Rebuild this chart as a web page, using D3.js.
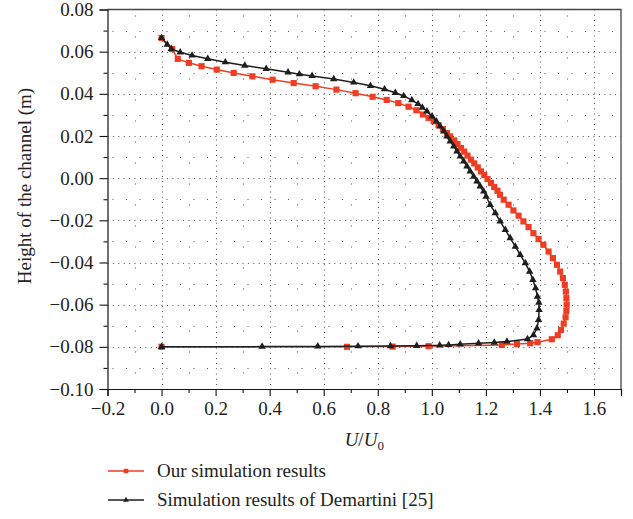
<!DOCTYPE html>
<html>
<head>
<meta charset="utf-8">
<script src="https://cdn.jsdelivr.net/npm/d3@7/dist/d3.min.js"></script>
<style>
  body { margin: 0; background: #fff; }
  text { font-family: "Liberation Serif", "DejaVu Serif", serif; }
</style>
</head>
<body>
<div id="chart"></div>
<script>
// Our simulation results (red squares)
var oursX = [0.0, 0.039, 0.060, 0.101, 0.148, 0.204, 0.267, 0.336, 0.411, 0.489, 0.570, 0.647, 0.718, 0.781, 0.833, 0.876,
  0.914, 0.943, 0.967, 0.988, 1.007, 1.025, 1.041, 1.056, 1.068, 1.083, 1.095, 1.108, 1.120, 1.132, 1.145, 1.157,
  1.170, 1.182, 1.194, 1.206, 1.219, 1.231, 1.243, 1.252, 1.266, 1.284, 1.302, 1.321, 1.339, 1.358, 1.376, 1.395,
  1.413, 1.432, 1.448, 1.463, 1.475, 1.485, 1.492, 1.496, 1.498, 1.499, 1.498, 1.495, 1.488, 1.478, 1.466, 1.444,
  1.391, 1.364, 1.315, 1.259, 0.988, 0.855, 0.686, 0.0];
var oursY = [0.0665, 0.0613, 0.0566, 0.0547, 0.0531, 0.0515, 0.0499, 0.0483, 0.0467, 0.0451, 0.0436, 0.0420, 0.0403, 0.0386, 0.0371, 0.0356,
  0.0339, 0.0322, 0.0302, 0.0286, 0.0270, 0.0251, 0.0233, 0.0214, 0.0198, 0.0179, 0.0162, 0.0143, 0.0126, 0.0107, 0.0088, 0.0070,
  0.0051, 0.0032, 0.0015, -0.0004, -0.0023, -0.0042, -0.0060, -0.0079, -0.0102, -0.0126, -0.0153, -0.0178, -0.0205, -0.0232, -0.0261, -0.0289,
  -0.0316, -0.0348, -0.0379, -0.0411, -0.0443, -0.0474, -0.0506, -0.0538, -0.0569, -0.0600, -0.0630, -0.0660, -0.0690, -0.0720, -0.0745, -0.0764,
  -0.0778, -0.0783, -0.0787, -0.0791, -0.0797, -0.0799, -0.0800, -0.0800];

// Simulation results of Demartini [25] (black triangles)
var demX = [0.0, 0.021, 0.036, 0.069, 0.113, 0.171, 0.236, 0.308, 0.387, 0.468, 0.510, 0.557, 0.637, 0.711, 0.773, 0.825,
  0.865, 0.896, 0.926, 0.949, 0.965, 0.982, 1.001, 1.017, 1.031, 1.044, 1.056, 1.068, 1.081, 1.093, 1.105, 1.118,
  1.130, 1.142, 1.155, 1.167, 1.179, 1.192, 1.201, 1.216, 1.235, 1.253, 1.272, 1.290, 1.309, 1.327, 1.346, 1.362,
  1.374, 1.384, 1.391, 1.396, 1.397, 1.395, 1.389, 1.376, 1.354, 1.278, 1.231, 1.173, 1.105, 1.062, 1.029, 0.944,
  0.847, 0.727, 0.578, 0.372, 0.0];
var demY = [0.0665, 0.0634, 0.0613, 0.0597, 0.0582, 0.0566, 0.0550, 0.0534, 0.0519, 0.0502, 0.0493, 0.0485, 0.0470, 0.0454, 0.0438, 0.0422,
  0.0405, 0.0390, 0.0370, 0.0352, 0.0335, 0.0317, 0.0293, 0.0270, 0.0246, 0.0222, 0.0198, 0.0175, 0.0151, 0.0127, 0.0103, 0.0080,
  0.0056, 0.0032, 0.0008, -0.0015, -0.0039, -0.0063, -0.0087, -0.0126, -0.0166, -0.0205, -0.0245, -0.0284, -0.0324, -0.0364, -0.0403, -0.0443,
  -0.0482, -0.0522, -0.0562, -0.0590, -0.0625, -0.0672, -0.0712, -0.0744, -0.0763, -0.0775, -0.0780, -0.0783, -0.0788, -0.0791, -0.0793, -0.0795,
  -0.0796, -0.0797, -0.0798, -0.0799, -0.0800];

var xTicks = [-0.2, 0.0, 0.2, 0.4, 0.6, 0.8, 1.0, 1.2, 1.4, 1.6];
var yTicks = [0.08, 0.06, 0.04, 0.02, 0.00, -0.02, -0.04, -0.06, -0.08, -0.10];
var legendNames = ["Our simulation results", "Simulation results of Demartini [25]"];

var width = 633, height = 519;
var plotLeft = 107.5, plotRight = 621, plotTop = 9.5, plotBottom = 389;
var red = "#ef3d23", black = "#1e1e1e";

var svg = d3.select("#chart").append("svg")
    .attr("width", width)
    .attr("height", height);

var x = d3.scaleLinear().domain([-0.2, 1.7]).range([plotLeft, plotRight]);
var y = d3.scaleLinear().domain([-0.10, 0.08]).range([plotBottom, plotTop]);

function fmt(v) {
    return d3.format(".2f")(v).replace("-", "\u2212");
}
function fmt1(v) {
    return d3.format(".1f")(v).replace("-", "\u2212");
}

// grid
var grid = svg.append("g").attr("stroke", "#555").attr("stroke-width", 1.1);
var minorY = d3.range(-0.09, 0.08, 0.02);
var minorX = d3.range(-0.1, 1.7, 0.2);

grid.selectAll(".hmaj").data(yTicks.slice(1, -1)).enter().append("line")
    .attr("x1", plotLeft).attr("x2", plotRight)
    .attr("y1", function(d) { return Math.round(y(d)) + 0.5; })
    .attr("y2", function(d) { return Math.round(y(d)) + 0.5; })
    .attr("stroke-dasharray", "1,4.4");
grid.selectAll(".hmin").data(minorY).enter().append("line")
    .attr("x1", plotLeft + 5).attr("x2", plotRight)
    .attr("y1", function(d) { return Math.round(y(d)) + 0.5; })
    .attr("y2", function(d) { return Math.round(y(d)) + 0.5; })
    .attr("stroke-dasharray", "1,12.5");
grid.selectAll(".vmaj").data(xTicks.slice(1)).enter().append("line")
    .attr("y1", plotTop).attr("y2", plotBottom)
    .attr("x1", function(d) { return Math.round(x(d)) + 0.5; })
    .attr("x2", function(d) { return Math.round(x(d)) + 0.5; })
    .attr("stroke-dasharray", "1,4.2");
grid.selectAll(".vmin").data(minorX).enter().append("line")
    .attr("y1", plotTop + 6).attr("y2", plotBottom)
    .attr("x1", function(d) { return Math.round(x(d)) + 0.5; })
    .attr("x2", function(d) { return Math.round(x(d)) + 0.5; })
    .attr("stroke-dasharray", "1,20");

// frame top/right
svg.append("path")
    .attr("d", "M" + plotLeft + "," + plotTop + "H" + plotRight + "V" + plotBottom)
    .attr("fill", "none").attr("stroke", "#444").attr("stroke-width", 1.3);

// axes
svg.append("g").attr("transform", "translate(0," + plotBottom + ")")
    .call(d3.axisBottom(x).tickValues(xTicks).tickFormat(fmt1).tickSize(7).tickPadding(6));
svg.append("g").attr("transform", "translate(0," + plotBottom + ")")
    .call(d3.axisBottom(x).tickValues(minorX).tickFormat("").tickSize(4))
    .select(".domain").remove();
svg.append("g").attr("transform", "translate(" + plotLeft + ",0)")
    .call(d3.axisLeft(y).tickValues(yTicks).tickFormat(fmt).tickSize(8).tickPadding(6));
svg.append("g").attr("transform", "translate(" + plotLeft + ",0)")
    .call(d3.axisLeft(y).tickValues(minorY).tickFormat("").tickSize(4))
    .select(".domain").remove();

svg.selectAll(".domain").attr("stroke", "#111").attr("stroke-width", 1.2);
svg.selectAll(".tick line").attr("stroke", "#111").attr("stroke-width", 1.1);
svg.selectAll(".tick text").attr("font-family", "Liberation Serif").attr("font-size", 19).attr("fill", "#222");

// axis titles
svg.append("text")
    .attr("transform", "translate(31,186) rotate(-90)")
    .attr("text-anchor", "middle")
    .attr("font-size", 19).attr("fill", "#222")
    .text("Height of the channel (m)");

var xt = svg.append("text")
    .attr("x", (plotLeft + plotRight) / 2).attr("y", 446)
    .attr("text-anchor", "middle")
    .attr("font-size", 19).attr("fill", "#222");
xt.append("tspan").attr("font-style", "italic").text("U");
xt.append("tspan").text("/");
xt.append("tspan").attr("font-style", "italic").text("U");
xt.append("tspan").attr("font-size", 13).attr("dy", 4).text("0");

// series
var line = d3.line()
    .x(function(d) { return x(d[0]); })
    .y(function(d) { return y(d[1]); });

var ours = d3.zip(oursX, oursY);
var dem = d3.zip(demX, demY);

var sq = d3.symbol().type(d3.symbolSquare).size(38);
var tri = d3.symbol().type(d3.symbolTriangle).size(24);

svg.append("path").datum(ours)
    .attr("d", line).attr("fill", "none")
    .attr("stroke", red).attr("stroke-width", 1.5);
svg.append("g").selectAll("path").data(ours).enter().append("path")
    .attr("d", sq)
    .attr("transform", function(d) { return "translate(" + x(d[0]) + "," + y(d[1]) + ")"; })
    .attr("fill", red);

svg.append("path").datum(dem)
    .attr("d", line).attr("fill", "none")
    .attr("stroke", black).attr("stroke-width", 1.5);
svg.append("g").selectAll("path").data(dem).enter().append("path")
    .attr("d", tri)
    .attr("transform", function(d) { return "translate(" + x(d[0]) + "," + y(d[1]) + ")"; })
    .attr("fill", black);

// legend
var legend = svg.append("g");
var ly = [471, 500];
[red, black].forEach(function(c, i) {
    legend.append("line")
        .attr("x1", 108).attr("x2", 144)
        .attr("y1", ly[i]).attr("y2", ly[i])
        .attr("stroke", c).attr("stroke-width", 1.5);
    legend.append("path")
        .attr("d", i == 0 ? d3.symbol().type(d3.symbolSquare).size(20)() : d3.symbol().type(d3.symbolTriangle).size(14)())
        .attr("transform", "translate(126," + ly[i] + ")")
        .attr("fill", c);
    legend.append("text")
        .attr("x", 157).attr("y", ly[i] + 6)
        .attr("font-size", 19).attr("fill", "#222")
        .text(legendNames[i]);
});
</script>
</body>
</html>
